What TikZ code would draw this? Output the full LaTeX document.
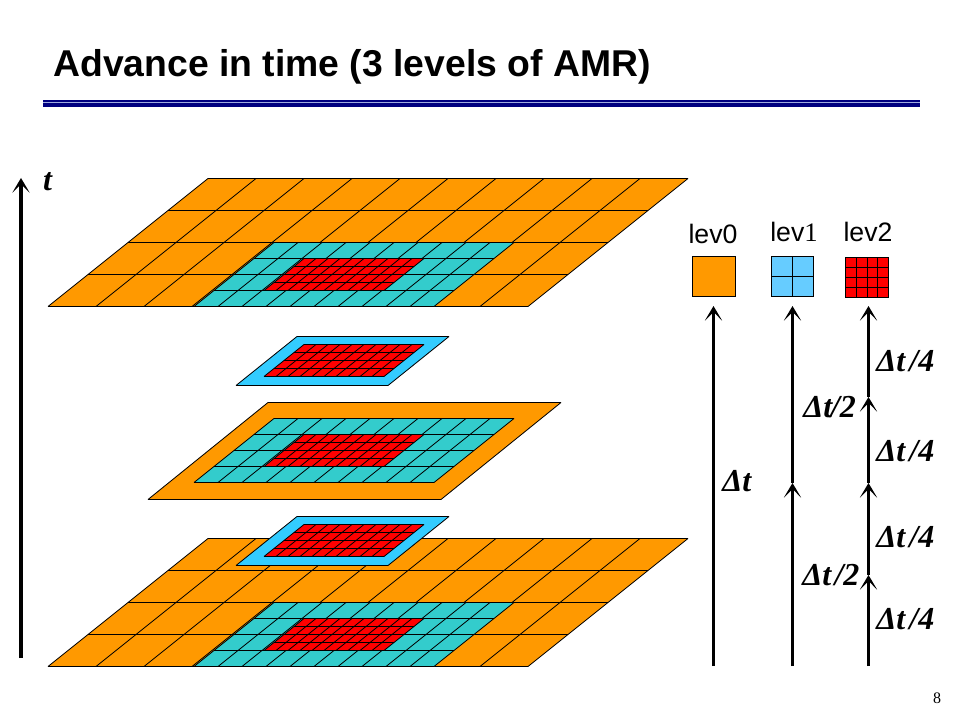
\documentclass[tikz,border=0pt]{standalone}
\usepackage{fontspec}
\setmainfont{Liberation Sans}
\newfontfamily\serifrm{Liberation Serif}
\usetikzlibrary{arrows.meta}
\definecolor{amrorange}{HTML}{FF9900}
\definecolor{amrteal}{HTML}{33CCCC}
\definecolor{amrblue}{HTML}{33CCFF}
\definecolor{amrsky}{HTML}{66CCFF}
\definecolor{amrred}{HTML}{FF0000}
\definecolor{amrnavy}{HTML}{000080}
\definecolor{amrpale}{HTML}{A0ACE0}
\tikzset{
  x=0.75pt,y=-0.75pt,
  gridline/.style={draw=black,line width=0.7pt,line join=miter},
  slantline/.style={draw=black,line width=0.62pt},
  timearrow/.style={line width=2.5pt,-{Stealth[length=11pt,width=13pt,inset=6.5pt]}},
  dtlabel/.style={font=\fontsize{24}{24}\selectfont\serifrm\bfseries\itshape,inner sep=0pt},
  levlabel/.style={font=\fontsize{20}{20}\selectfont,inner sep=0pt},
}
% #1 bottom-left x, #2 bottom y, #3 width, #4 height, #5 shift, #6 cols, #7 rows, #8 fill
\newcommand{\amrgrid}[8]{%
  \fill[#8] (#1,#2) -- ({#1+#3},#2) -- ({#1+#3+#5},{#2-#4}) -- ({#1+#5},{#2-#4}) -- cycle;
  \foreach \i in {0,...,#6}{%
    \draw[slantline] ({#1+#3*\i/#6},#2) -- ({#1+#5+#3*\i/#6},{#2-#4});}
  \foreach \j in {0,...,#7}{%
    \draw[gridline] ({#1+#5*\j/#7},{#2-#4*\j/#7}) -- ({#1+#3+#5*\j/#7},{#2-#4*\j/#7});}
}
\newcommand{\amrplain}[6]{%
  \fill[#6] (#1,#2) -- ({#1+#3},#2) -- ({#1+#3+#5},{#2-#4}) -- ({#1+#5},{#2-#4}) -- cycle;
  \draw[slantline] (#1,#2) -- ({#1+#5},{#2-#4}) ({#1+#3},#2) -- ({#1+#3+#5},{#2-#4});
  \draw[gridline] (#1,#2) -- ({#1+#3},#2) ({#1+#5},{#2-#4}) -- ({#1+#3+#5},{#2-#4});
}
\begin{document}
\begin{tikzpicture}
\useasboundingbox (0,0) rectangle (960,720);
\fill[white] (0,0) rectangle (960,720);
% title and rule
\node[anchor=base west,inner sep=0pt,font=\fontsize{28}{28}\selectfont\bfseries] (title) at (53,77) {Advance in time (3 levels of AMR)};
\fill[amrnavy] (42.5,100.5) rectangle (920,107);
\fill[amrpale] (42.5,102) rectangle (920,103.2);
% time axis
\coordinate (axisS) at (21,658);
\coordinate (axisE) at (21,178);
\draw[timearrow] (axisS) -- (axisE);
\node[anchor=base,dtlabel] (tlab) at (47.5,191) {t};
% top plate
\amrgrid{48}{306.5}{480}{128}{160}{10}{4}{amrorange}
\amrgrid{194}{306.5}{240}{64}{80}{10}{4}{amrteal}
\amrgrid{264}{290.5}{120}{32}{40}{10}{4}{amrred}
% upper blue plate
\amrplain{236}{385.5}{152}{49}{61}{amrblue}
\amrgrid{264}{376.5}{120}{32}{40}{10}{4}{amrred}
% middle plate
\amrplain{148}{499.5}{293}{97}{120}{amrorange}
\amrgrid{194}{482.5}{240}{64}{80}{10}{4}{amrteal}
\amrgrid{264}{466.5}{120}{32}{40}{10}{4}{amrred}
% bottom plate
\amrgrid{48}{666.5}{480}{128}{160}{10}{4}{amrorange}
\amrgrid{194}{666.5}{240}{64}{80}{10}{4}{amrteal}
\amrgrid{264}{650.5}{120}{32}{40}{10}{4}{amrred}
% lower blue plate
\amrplain{236}{565.5}{152}{49}{61}{amrblue}
\amrgrid{264}{556.5}{120}{32}{40}{10}{4}{amrred}
% legend
\node[levlabel,anchor=base] (l0) at (713,244) {lev0};
\node[levlabel,anchor=base] (l1) at (794,242) {lev{\serifrm 1}};
\node[levlabel,anchor=base] (l2) at (868,242) {lev2};
\draw[gridline,fill=amrorange] (692.5,256.5) rectangle (735.5,296.5);
\draw[gridline,fill=amrsky] (771.5,256.5) rectangle (813.5,296.5);
\draw[gridline] (792.5,256.5) -- (792.5,296.5) (771.5,276.5) -- (813.5,276.5);
\draw[gridline,fill=amrred] (845.5,257.5) rectangle (888.5,297.5);
\foreach \i in {1,2,3}{\draw[gridline] ({845.5+10.75*\i},257.5) -- ({845.5+10.75*\i},297.5) (845.5,{257.5+10*\i}) -- (888.5,{257.5+10*\i});}
% time arrows
\coordinate (a0) at (713.5,666); \coordinate (a1) at (713.5,306);
\draw[timearrow] (a0) -- (a1);
\coordinate (b0) at (792.5,666); \coordinate (b1) at (792.5,483); \coordinate (b2) at (792.5,306);
\draw[timearrow] (b0) -- (b1);
\draw[timearrow] (b1) -- (b2);
\coordinate (c0) at (868.5,666); \coordinate (c1) at (868.5,575); \coordinate (c2) at (868.5,483); \coordinate (c3) at (868.5,397); \coordinate (c4) at (868.5,306);
\draw[timearrow] (c0) -- (c1);
\draw[timearrow] (c1) -- (c2);
\draw[timearrow] (c2) -- (c3);
\draw[timearrow] (c3) -- (c4);
% labels
\node[dtlabel,anchor=base west] (d0) at (722,491) {Δt};
\node[dtlabel,anchor=base west] (d1) at (803,417) {Δt\kern-1pt/2};
\node[dtlabel,anchor=base west] (d2) at (802,585) {Δt\kern2.5pt/2};
\node[dtlabel,anchor=base west] (d3) at (876,371) {Δt\kern3.2pt/4};
\node[dtlabel,anchor=base west] (d4) at (876,461) {Δt\kern3.2pt/4};
\node[dtlabel,anchor=base west] (d5) at (876,547) {Δt\kern3.2pt/4};
\node[dtlabel,anchor=base west] (d6) at (876,629) {Δt\kern3.2pt/4};
\node[anchor=base,inner sep=0pt,font=\fontsize{12}{12}\selectfont\serifrm] (page) at (937,703) {8};
\end{tikzpicture}
\end{document}
